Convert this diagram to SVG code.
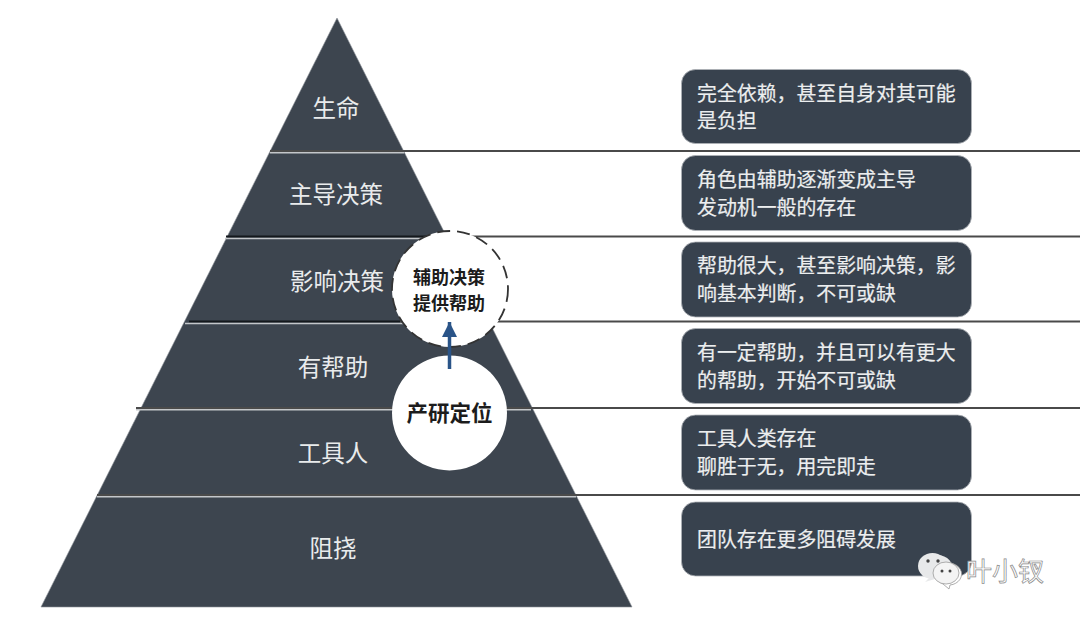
<svg xmlns="http://www.w3.org/2000/svg" width="1080" height="620" viewBox="0 0 1080 620">
<style>
text{font-family:"Noto Sans CJK SC","Noto Sans CJK JP",sans-serif}
.lvl{font-size:23.5px;fill:#e9ebec;text-anchor:middle;font-weight:400}
.card{fill:#38424e;stroke:#aeb3b8;stroke-width:.8}
.ct{font-size:19.9px;fill:#eceeef;stroke:#eceeef;stroke-width:.2}
.ln{stroke:#4a4a4a;stroke-width:2;fill:none}
.dk{stroke:#14181c;stroke-width:2;fill:none}
.hl{stroke:#c4c7ca;stroke-width:1.4;fill:none}
.cc{fill:#1c1c1c;text-anchor:middle;font-weight:700}
</style>
<defs>
<marker id="ah" markerUnits="userSpaceOnUse" markerWidth="16" markerHeight="16" refX="15" refY="8" orient="auto"><path d="M0 0.5L15 8L0 15.5Z" fill="#2a5488"/></marker>
</defs>
<rect width="1080" height="620" fill="#fff"/>
<g id="pyramid">
<polygon points="337,18 632,607 41,607" fill="#3d454f" stroke="#8d9299" stroke-width=".6"/>
<text class="lvl" x="336" y="117">生命</text>
<text class="lvl" x="336" y="203">主导决策</text>
<text class="lvl" x="337" y="290">影响决策</text>
<text class="lvl" x="333" y="376">有帮助</text>
<text class="lvl" x="333" y="462">工具人</text>
<text class="lvl" x="333" y="557">阻挠</text>
</g>
<g id="connectors">
<path class="ln" d="M270 151H1080M444 236.500H1080M400 321.500H1080M136 408H1080M97 495H1080"/>
<path class="dk" d="M226 236.500H444M189 321.500H400"/>
<path class="hl" d="M270 152.800H404M225 238.500H430M185 323.500H410M136 409.800H531M97 496.800H576"/>
</g>
<g id="node-support">
<circle cx="450" cy="289" r="58" fill="#fff" stroke="#333" stroke-width="1.8" stroke-dasharray="13 7"/>
<text class="cc" x="449" y="284" font-size="18">辅助决策</text>
<text class="cc" x="449" y="310" font-size="18">提供帮助</text>
</g>
<g id="node-position">
<circle cx="449.500" cy="413" r="57.500" fill="#fff"/>
<text class="cc" x="449.500" y="421" font-size="21.500">产研定位</text>
</g>
<g id="arrow">
<line x1="449.500" y1="369" x2="449.500" y2="322" stroke="#2a5488" stroke-width="3.500" marker-end="url(#ah)"/>
</g>
<g id="card-1"><rect class="card" x="681.500" y="69.500" width="290" height="74" rx="14"/>
<text class="ct" x="697" y="101">完全依赖，甚至自身对其可能</text><text class="ct" x="697" y="128">是负担</text></g>
<g id="card-2"><rect class="card" x="681.500" y="155.500" width="290" height="75" rx="14"/>
<text class="ct" x="697" y="187">角色由辅助逐渐变成主导</text><text class="ct" x="697" y="215">发动机一般的存在</text></g>
<g id="card-3"><rect class="card" x="681.500" y="242" width="290" height="75" rx="14"/>
<text class="ct" x="697" y="273">帮助很大，甚至影响决策，影</text><text class="ct" x="697" y="301">响基本判断，不可或缺</text></g>
<g id="card-4"><rect class="card" x="681.500" y="328.500" width="290" height="75" rx="14"/>
<text class="ct" x="697" y="360">有一定帮助，并且可以有更大</text><text class="ct" x="697" y="388">的帮助，开始不可或缺</text></g>
<g id="card-5"><rect class="card" x="681.500" y="415" width="290" height="75" rx="14"/>
<text class="ct" x="697" y="446">工具人类存在</text><text class="ct" x="697" y="474">聊胜于无，用完即走</text></g>
<g id="card-6"><rect class="card" x="681.500" y="502" width="290" height="74" rx="14"/>
<text class="ct" x="697" y="547">团队存在更多阻碍发展</text></g>
<g id="watermark">
<path d="M925 582l5-5a14 12 0 1 1 5 2z" fill="#e8e9ea"/>
<ellipse cx="932.500" cy="566" rx="14.500" ry="13" fill="#e8e9ea"/>
<path d="M943 584 l6 5 l1-4a13 11 0 1 0-7-1z" fill="#fff" stroke="#9a9a9a" stroke-width=".8"/>
<ellipse cx="946" cy="573" rx="13" ry="11" fill="#f4f4f4" stroke="#9a9a9a" stroke-width=".8"/>
<circle cx="928" cy="561" r="1.700" fill="#444"/><circle cx="938" cy="561" r="1.700" fill="#444"/>
<circle cx="942" cy="571" r="1.500" fill="#444"/><circle cx="950" cy="571" r="1.500" fill="#444"/>
<text x="966" y="581" font-size="26" fill="#fff" stroke="#8a8a8a" stroke-width=".7">叶小钗</text>
</g>
</svg>
